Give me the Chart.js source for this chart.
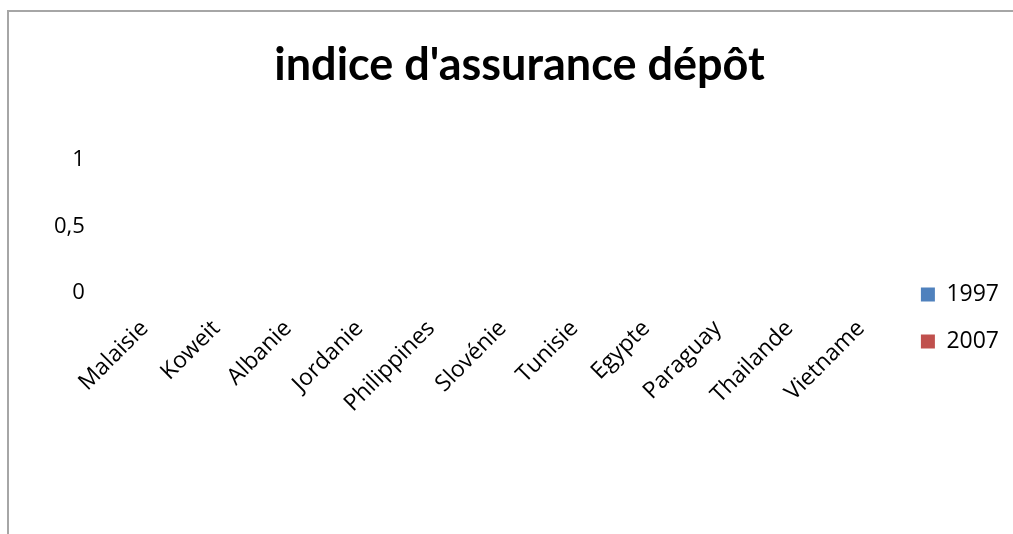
<!DOCTYPE html>
<html>
<head>
<meta charset="utf-8">
<script src="https://cdn.jsdelivr.net/npm/chart.js@4"></script>
<style>
  html, body { margin: 0; padding: 0; background: #fff; }
  #wrap { width: 1013px; height: 534px; }
</style>
</head>
<body>
<div id="wrap"><canvas id="chart" width="1013" height="534"></canvas></div>
<script>
// données
const pays = ['Malaisie', 'Koweit', 'Albanie', 'Jordanie', 'Philippines', 'Slovénie',
              'Tunisie', 'Egypte', 'Paraguay', 'Thailande', 'Vietname'];
const serie1997 = [0, 0, 0, 0, 0, 0, 0, 0, 0, 0, 0];
const serie2007 = [0, 0, 0, 0, 0, 0, 0, 0, 0, 0, 0];
const ticksY = [0, 0.5, 1];

// cadre gris (haut + gauche), comme la capture
const cadre = {
  id: 'cadre',
  beforeDraw(chart) {
    const c = chart.ctx;
    c.save();
    c.strokeStyle = '#a6a6a6';
    c.lineWidth = 2;
    c.beginPath();
    c.moveTo(8, 534);
    c.lineTo(8, 11);
    c.lineTo(1013, 11);
    c.stroke();
    c.restore();
  }
};

new Chart(document.getElementById('chart'), {
  type: 'bar',
  data: {
    labels: pays,
    datasets: [
      { label: '1997', data: serie1997, backgroundColor: '#4f81bd', borderWidth: 0 },
      { label: '2007', data: serie2007, backgroundColor: '#c0504d', borderWidth: 0 }
    ]
  },
  options: {
    responsive: false,
    animation: false,
    layout: { padding: { left: 30, right: 4, top: 38, bottom: 10 } },
    plugins: {
      title: {
        display: true,
        text: "indice d'assurance dépôt",
        color: '#000',
        font: { family: 'Lato', size: 45, weight: 'bold' },
        padding: { top: 0, bottom: 68 }
      },
      legend: {
        position: 'right',
        // titre vide pour descendre la légende
        title: { display: true, text: ' ', font: { size: 10 }, padding: { top: 31, bottom: 31 } },
        labels: {
          color: '#000',
          boxWidth: 14,
          boxHeight: 14,
          padding: 24,
          font: { family: 'Open Sans', size: 23 }
        }
      },
      tooltip: { enabled: false }
    },
    scales: {
      x: {
        grid: { display: false, drawTicks: false },
        border: { display: false },
        afterFit(axis) { axis.height = 231; },
        ticks: {
          color: '#000',
          maxRotation: 45,
          minRotation: 45,
          padding: 22,
          font: { family: 'Open Sans', size: 23 }
        }
      },
      y: {
        min: 0,
        max: 1,
        afterBuildTicks(axis) { axis.ticks = ticksY.map(v => ({ value: v })); },
        grid: { display: false, drawTicks: false },
        border: { display: false },
        ticks: {
          color: '#000',
          padding: 24,
          font: { family: 'Open Sans', size: 22 },
          callback: v => String(v).replace('.', ',')
        }
      }
    }
  },
  plugins: [cadre]
});
</script>
</body>
</html>
